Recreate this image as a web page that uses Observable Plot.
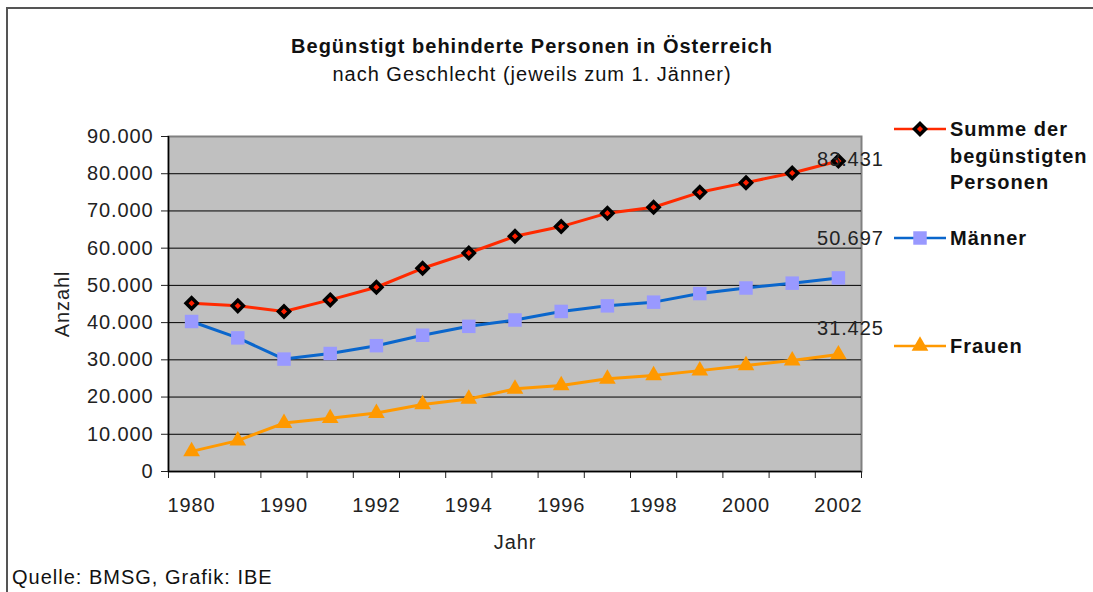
<!DOCTYPE html>
<html>
<head>
<meta charset="utf-8">
<script src="https://cdn.jsdelivr.net/npm/d3@7"></script>
<script src="https://cdn.jsdelivr.net/npm/@observablehq/plot@0.6"></script>
<style>
  html, body { margin: 0; padding: 0; background: #fff; }
  #wrap { position: relative; width: 1093px; height: 592px; overflow: hidden; font-family: "Liberation Sans", Arial, sans-serif; color: #111; letter-spacing: 1px; }
  #border { position: absolute; left: 6px; top: 7px; width: 1100px; height: 600px; border-left: 2px solid #555; border-top: 2px solid #555; }
  #chart { position: absolute; left: 0; top: 0; }
  #chart svg text { letter-spacing: 0.9px; }
  .t { position: absolute; white-space: nowrap; }
  #title { left: 532px; top: 35px; transform: translateX(-50%); font-weight: bold; font-size: 20px; }
  #subtitle { left: 532px; top: 63px; transform: translateX(-50%); font-size: 20px; }
  #caption { left: 12px; top: 566px; font-size: 20px; }
  .leg { position: absolute; left: 890px; }
  .leg svg { position: absolute; left: 0; top: 0; }
  .leg .lab { position: absolute; left: 60px; top: -13px; font-weight: bold; font-size: 20px; line-height: 26.5px; white-space: nowrap; }
</style>
</head>
<body>
<div id="wrap">
  <div id="border"></div>
  <div id="chart"></div>
  <div class="t" id="title"></div>
  <div class="t" id="subtitle"></div>
  <div class="t" id="caption"></div>
  <div id="legend"></div>
</div>
<script>
// ---- data ----
const years = ["1980", "1985", "1990", "1991", "1992", "1993", "1994", "1995", "1996", "1997", "1998", "1999", "2000", "2001", "2002"];
const summe  = [45200, 44500, 43000, 46100, 49500, 54600, 58700, 63200, 65800, 69400, 71000, 75000, 77600, 80200, 83431];
const maenner = [40300, 35900, 30200, 31700, 33800, 36600, 39000, 40700, 43000, 44500, 45500, 47800, 49300, 50600, 52006];
const frauen = [5400, 8300, 13000, 14300, 15700, 18000, 19500, 22200, 23100, 24900, 25800, 27100, 28500, 29800, 31425];
const seriesNames = ["Summe der begünstigten Personen", "Männer", "Frauen"];
const seriesLegendLines = [["Summe der", "begünstigten", "Personen"], ["Männer"], ["Frauen"]];
const endLabels = ["83.431", "50.697", "31.425"];
const yTicks = [0, 10000, 20000, 30000, 40000, 50000, 60000, 70000, 80000, 90000];
const gridTicks = [10000, 20000, 30000, 40000, 50000, 60000, 70000, 80000];
const labeledYears = ["1980", "1990", "1992", "1994", "1996", "1998", "2000", "2002"];
const titleText = "Begünstigt behinderte Personen in Österreich";
const subtitleText = "nach Geschlecht (jeweils zum 1. Jänner)";
const captionText = "Quelle: BMSG, Grafik: IBE";
const xLabel = "Jahr";
const yLabel = "Anzahl";

// ---- styles ----
const styles = [
  {line: "#ff2a00", symbol: "diamond2", r: 5, fill: "#ff2000", stroke: "#000", sw: 3.5},
  {line: "#0a66cc", symbol: "square", r: 7.6, fill: "#9999ff", stroke: "none", sw: 0},
  {line: "#ff9900", symbol: "triangle", r: 6.2, fill: "#ff9900", stroke: "none", sw: 0}
];
const endOffsets = [{dx: 12, dy: -1}, {dx: 12, dy: -39}, {dx: 12, dy: -26}];

const seriesValues = [summe, maenner, frauen];
const tables = seriesValues.map(vals => vals.map((v, i) => ({i, v, year: years[i]})));

const fmt = d => d3.format(",")(d).replace(/,/g, ".");
const boundaryTicks = years.map((_, i) => i - 0.5).concat([years.length - 0.5]);
const labelIdx = labeledYears.map(y => years.indexOf(y));

const marks = [
  Plot.frame({fill: "#c0c0c0", stroke: "#808080", strokeWidth: 2}),
  Plot.ruleY(gridTicks, {stroke: "#000", strokeWidth: 1}),
  Plot.axisY({ticks: yTicks, tickFormat: fmt, tickSize: 7, tickPadding: 8, label: yLabel, labelAnchor: "center", labelOffset: 114, labelArrow: "none"}),
  Plot.axisX({ticks: boundaryTicks, tickFormat: () => "", tickSize: 7, label: null}),
  Plot.axisX({ticks: labelIdx, tickFormat: i => years[i], tickSize: 0, tickPadding: 26, label: xLabel, labelAnchor: "center", labelOffset: 77, labelArrow: "none"}),
  Plot.ruleY([0], {stroke: "#000", strokeWidth: 1.5}),
  Plot.ruleX([-0.5], {stroke: "#000", strokeWidth: 1.5})
];
tables.forEach((tab, k) => {
  const s = styles[k];
  marks.push(Plot.line(tab, {x: "i", y: "v", stroke: s.line, strokeWidth: 3}));
});
tables.forEach((tab, k) => {
  const s = styles[k];
  marks.push(Plot.dot(tab, {x: "i", y: "v", symbol: s.symbol, r: s.r, fill: s.fill, stroke: s.stroke, strokeWidth: s.sw}));
  if (k === 0) marks.push(Plot.dot(tab, {x: "i", y: "v", r: 1.5, fill: "#ff2000"}));
});
tables.forEach((tab, k) => {
  const last = tab[tab.length - 1];
  marks.push(Plot.text([last], {x: "i", y: "v", text: () => endLabels[k], dx: endOffsets[k].dx, dy: endOffsets[k].dy, fontSize: 20, fill: "#222"}));
});

const chart = Plot.plot({
  width: 1093,
  height: 592,
  marginLeft: 168,
  marginRight: 232,
  marginTop: 136,
  marginBottom: 121,
  x: {type: "linear", domain: [-0.5, years.length - 0.5]},
  y: {domain: [0, 90000]},
  style: {fontFamily: "'Liberation Sans', Arial, sans-serif", fontSize: "20px", color: "#222", background: "transparent", overflow: "visible"},
  marks
});
document.getElementById("chart").appendChild(chart);

document.getElementById("title").textContent = titleText;
document.getElementById("subtitle").textContent = subtitleText;
document.getElementById("caption").textContent = captionText;

// legend
const legTops = [129, 238, 346];
const legend = document.getElementById("legend");
styles.forEach((s, k) => {
  const div = document.createElement("div");
  div.className = "leg";
  div.style.top = legTops[k] + "px";
  const svg = d3.create("svg").attr("width", 60).attr("height", 20).style("top", "-10px").style("overflow", "visible");
  svg.append("line").attr("x1", 4).attr("x2", 56).attr("y1", 10).attr("y2", 10).attr("stroke", s.line).attr("stroke-width", 2.5);
  const symMap = {diamond2: d3.symbolDiamond2, square: d3.symbolSquare, triangle: d3.symbolTriangle};
  svg.append("path").attr("transform", "translate(30,10)")
    .attr("d", d3.symbol(symMap[s.symbol], s.r * s.r * Math.PI)())
    .attr("fill", s.fill).attr("stroke", s.stroke).attr("stroke-width", s.sw);
  if (k === 0) svg.append("circle").attr("cx", 30).attr("cy", 10).attr("r", 1.5).attr("fill", "#ff2000");
  div.appendChild(svg.node());
  const lab = document.createElement("div");
  lab.className = "lab";
  lab.innerHTML = seriesLegendLines[k].join("<br>");
  div.appendChild(lab);
  legend.appendChild(div);
});
</script>
</body>
</html>
